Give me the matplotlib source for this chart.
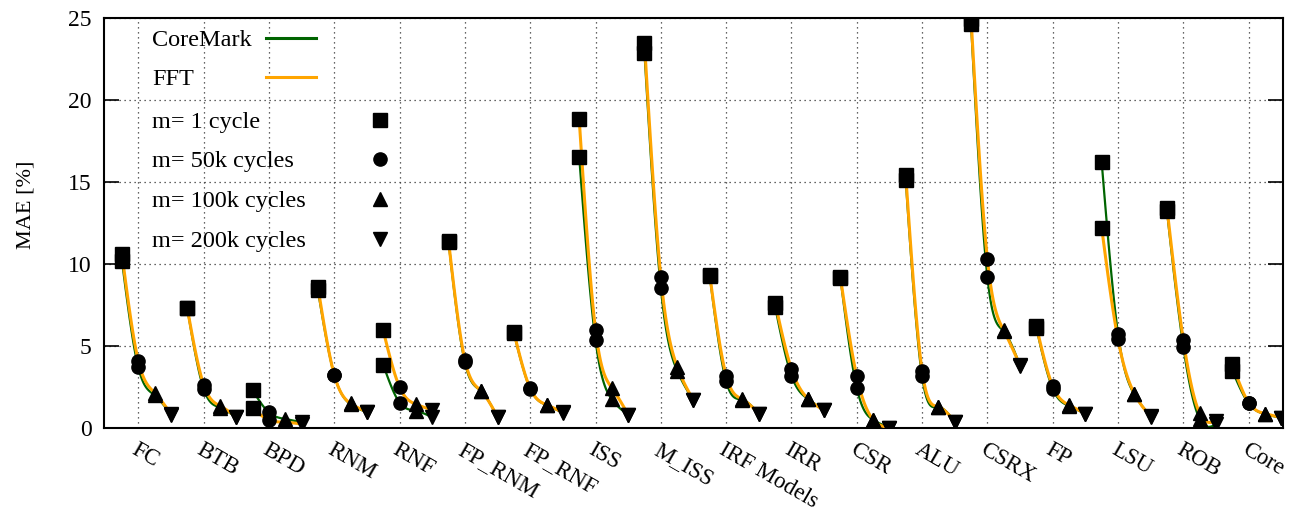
# MAE per component, CoreMark vs FFT, for 4 sampling periods m
import numpy as np
import matplotlib
matplotlib.use("Agg")
import matplotlib.pyplot as plt

plt.rcParams['font.family'] = ['Liberation Serif', 'DejaVu Serif']

# Data
components = ["FC", "BTB", "BPD", "RNM", "RNF", "FP_RNM", "FP_RNF", "ISS", "M_ISS",
              "IRF Models", "IRR", "CSR", "ALU", "CSRX", "FP", "LSU", "ROB", "Core"]
m_labels = ["m= 1 cycle", "m= 50k cycles", "m= 100k cycles", "m= 200k cycles"]

coremark = [
    [10.2, 3.70, 2.00, 0.80],
    [7.30, 2.40, 1.25, 0.65],
    [2.30, 0.95, 0.55, 0.35],
    [8.40, 3.25, 1.45, 0.98],
    [3.85, 1.55, 1.05, 0.65],
    [11.35, 4.00, 2.25, 0.65],
    [5.80, 2.40, 1.40, 0.93],
    [16.55, 5.35, 1.75, 0.80],
    [22.85, 8.55, 3.50, 1.68],
    [9.25, 2.85, 1.72, 0.87],
    [7.40, 3.20, 1.78, 1.07],
    [9.15, 2.45, 0.50, 0.02],
    [15.10, 3.15, 1.28, 0.37],
    [24.60, 9.20, 5.90, 3.80],
    [6.10, 2.40, 1.35, 0.85],
    [16.20, 5.75, 2.05, 0.70],
    [13.20, 4.95, 0.55, 0.22],
    [3.50, 1.50, 0.85, 0.62],
]
fft = [
    [10.60, 4.10, 2.15, 0.85],
    [7.30, 2.65, 1.35, 0.70],
    [1.20, 0.50, 0.35, 0.25],
    [8.60, 3.25, 1.50, 1.00],
    [5.95, 2.50, 1.45, 1.10],
    [11.40, 4.15, 2.25, 0.68],
    [5.85, 2.42, 1.42, 0.95],
    [18.85, 6.00, 2.45, 0.82],
    [23.45, 9.20, 3.75, 1.70],
    [9.30, 3.20, 1.75, 0.88],
    [7.65, 3.60, 1.80, 1.08],
    [9.18, 3.15, 0.52, 0.03],
    [15.40, 3.50, 1.30, 0.38],
    [24.95, 10.30, 5.95, 3.82],
    [6.20, 2.55, 1.40, 0.88],
    [12.20, 5.40, 2.10, 0.72],
    [13.40, 5.35, 0.90, 0.43],
    [3.90, 1.55, 0.88, 0.63],
]

green = "#006400"
orange = "#FFA500"
markers = ["s", "o", "^", "v"]
msizes = [10.0, 9.5, 10.5, 10.5]


def csplines(x, y, n=80):
    # natural cubic spline through the points (what gnuplot "smooth csplines" draws)
    x = np.asarray(x, float)
    y = np.asarray(y, float)
    k = len(x)
    h = np.diff(x)
    A = np.zeros((k, k))
    b = np.zeros(k)
    A[0, 0] = A[-1, -1] = 1.0
    for i in range(1, k - 1):
        A[i, i - 1] = h[i - 1]
        A[i, i] = 2 * (h[i - 1] + h[i])
        A[i, i + 1] = h[i]
        b[i] = 6 * ((y[i + 1] - y[i]) / h[i] - (y[i] - y[i - 1]) / h[i - 1])
    M = np.linalg.solve(A, b)
    xs = np.linspace(x[0], x[-1], n)
    j = np.clip(np.searchsorted(x, xs) - 1, 0, k - 2)
    hh = x[j + 1] - x[j]
    a = (x[j + 1] - xs) / hh
    c = (xs - x[j]) / hh
    ys = a * y[j] + c * y[j + 1] + ((a ** 3 - a) * M[j] + (c ** 3 - c) * M[j + 1]) * hh ** 2 / 6
    return xs, ys


fig = plt.figure(figsize=(12.92, 5.12), dpi=100)
ax = fig.add_axes([0.0805, 0.164, 0.9125, 0.801])

for g in range(len(components)):
    xg = 4 * g + np.arange(4)
    for vals, col, lw, z in [(coremark[g], green, 1.6, 2), (fft[g], orange, 2.2, 3)]:
        xs, ys = csplines(xg, vals)
        ax.plot(xs, ys, color=col, lw=lw, zorder=z)
    for i in range(4):
        ax.plot([xg[i], xg[i]], [coremark[g][i], fft[g][i]], ls="none",
                marker=markers[i], ms=msizes[i], color="black", zorder=4)

# Axes
ax.set_xlim(-1.1, 71.1)
ax.set_ylim(0, 25)
ax.set_yticks(np.arange(0, 26, 5))
ax.set_xticks(4 * np.arange(len(components)) + 1)
ax.set_xticklabels(components, rotation=-30, ha="left", va="top",
                   rotation_mode="anchor", fontsize=16.5)
ax.tick_params(axis="x", length=0, pad=8)
ax.tick_params(axis="y", direction="in", length=11, width=1.2, right=True,
               labelsize=17, pad=9)
ax.set_ylabel("MAE [%]", fontsize=16)
ax.yaxis.set_label_coords(-0.058, 0.545)
ax.grid(True, linestyle=(0, (1, 3)), color="#333333", lw=0.9)
for s in ax.spines.values():
    s.set_linewidth(1.5)

# Key, gnuplot style: text on the left, sample on the right
key_x = 0.041
key_rows = [0.951, 0.856, 0.751, 0.656, 0.559, 0.461]
for lab, col, yk in [("CoreMark", green, key_rows[0]), ("FFT", orange, key_rows[1])]:
    ax.text(key_x, yk, lab, transform=ax.transAxes, fontsize=17.5,
            ha="left", va="center_baseline")
    ax.plot([0.1374, 0.1799], [yk, yk], color=col, lw=2.2, transform=ax.transAxes)
for i, lab in enumerate(m_labels):
    yk = key_rows[2 + i]
    ax.text(key_x, yk, lab, transform=ax.transAxes, fontsize=17.5,
            ha="left", va="center_baseline")
    ax.plot([0.234], [yk], ls="none", marker=markers[i], ms=msizes[i],
            color="black", transform=ax.transAxes)

plt.savefig("out.png", dpi=100)
